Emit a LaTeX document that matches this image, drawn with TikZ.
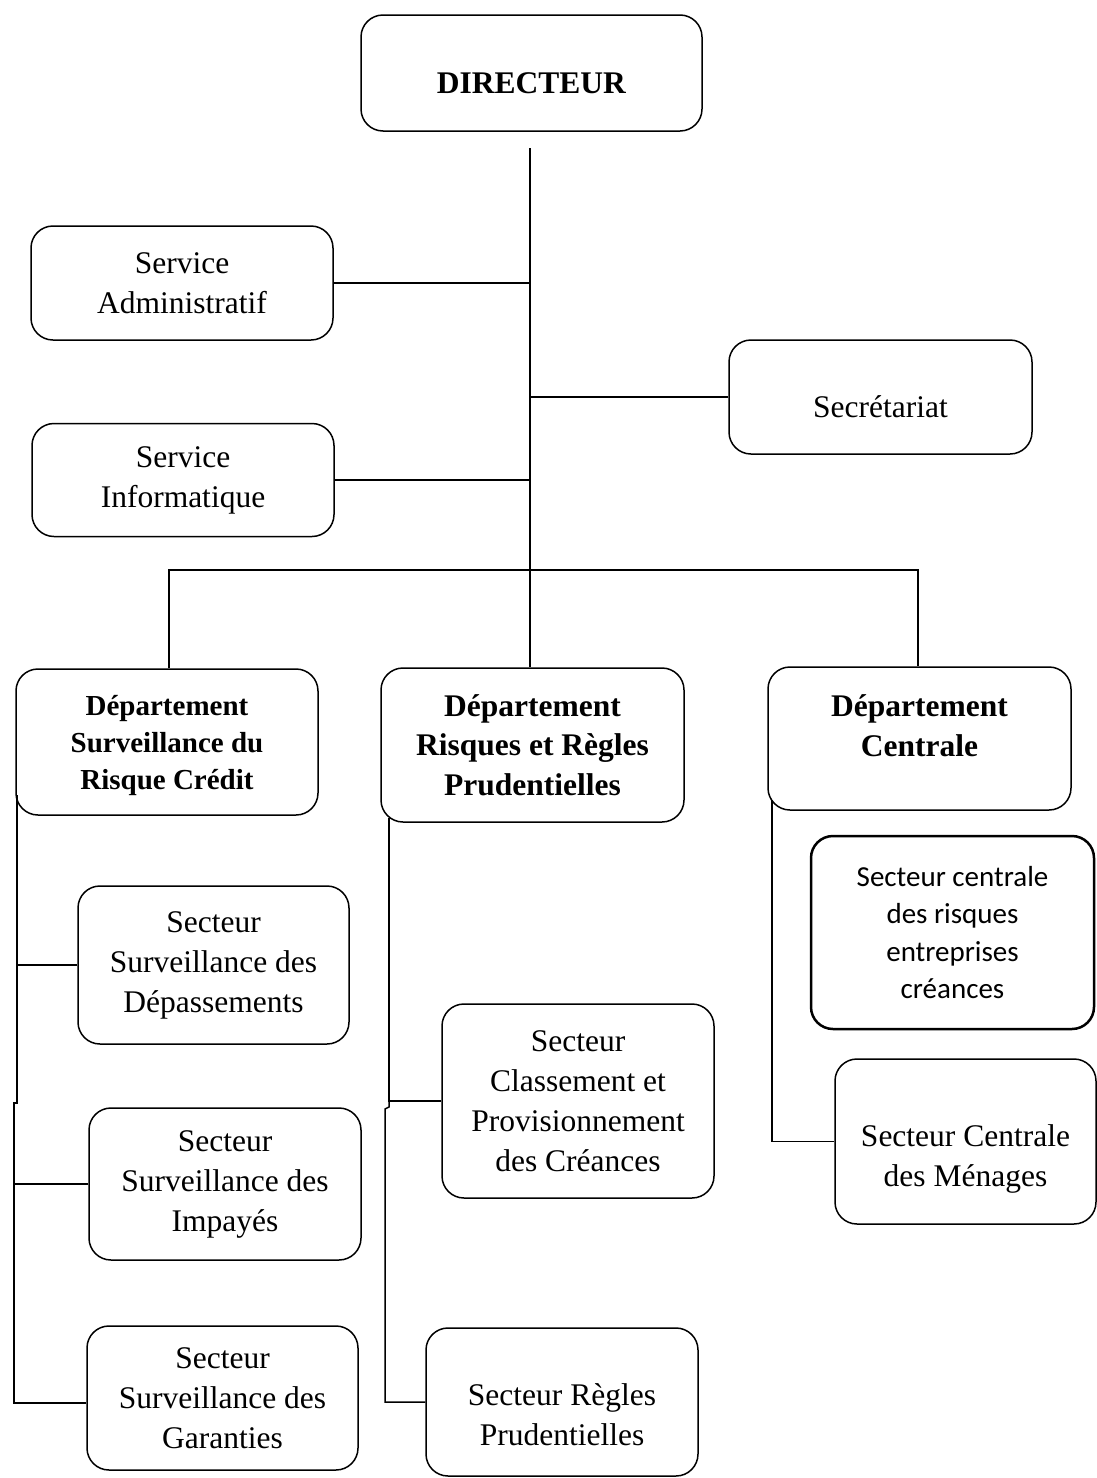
\documentclass[tikz,border=0pt]{standalone}
\usepackage{fontspec}
\setmainfont{Liberation Serif}
\newfontfamily\carlitofont{Carlito}
\begin{document}
\begin{tikzpicture}[x=1pt,y=-1pt,
  box/.style={draw,line width=1.5pt,rounded corners=22pt,align=center,inner sep=0pt,
    font=\fontsize{31.5}{40}\selectfont},
  deptbox/.style={box,font=\fontsize{31.5}{39.5}\selectfont\bfseries},
  conn/.style={line width=1.5pt}]
\useasboundingbox (0,0) rectangle (1096,1478);

% top level
\node[box,minimum width=341,minimum height=116,text height=41pt] (dir) at (531.5,73) {\textbf{DIRECTEUR}};
\node[box,minimum width=302,minimum height=114] (sadm) at (182,283) {Service\\Administratif};
\node[box,minimum width=303,minimum height=114,text height=41pt] (sec) at (880.5,397) {Secrétariat};
\node[box,minimum width=302,minimum height=113] (sinf) at (183,480) {Service\\Informatique};

% departments
\node[deptbox,font=\fontsize{29}{37}\selectfont\bfseries,minimum width=302,minimum height=146] (dep1) at (167,742) {\rule{0pt}{28pt}Département\\Surveillance du\\Risque Crédit};
\node[deptbox,minimum width=303,minimum height=154] (dep2) at (532.5,745) {Département\\Risques et Règles\\Prudentielles};
\node[deptbox,minimum width=303,minimum height=143,text depth=26pt] (dep3) at (919.5,738.5) {Département\\Centrale};

% sectors
\node[box,minimum width=271,minimum height=158] (sdep) at (213.5,965) {Secteur\\Surveillance des\\Dépassements};
\node[box,minimum width=272,minimum height=152] (simp) at (225,1184) {Secteur\\Surveillance des\\Impayés};
\node[box,minimum width=271,minimum height=144] (sgar) at (222.5,1398) {Secteur\\Surveillance des\\Garanties};
\node[box,minimum width=272,minimum height=194] (scla) at (578,1101) {Secteur\\Classement et\\Provisionnement\\des Créances};
\node[box,minimum width=272,minimum height=148] (srp) at (562,1402) {\rule{0pt}{48pt}Secteur Règles\\Prudentielles};
\node[box,line width=2.5pt,minimum width=283,minimum height=193,
  font=\fontsize{29}{37.5}\selectfont\carlitofont] (scr) at (952.5,932.5) {Secteur centrale\\des risques\\entreprises\\créances};
\node[box,minimum width=261,minimum height=165] (smen) at (965.5,1141.5) {\rule{0pt}{56pt}Secteur Centrale\\des Ménages};

% trunk
\coordinate (t0) at (530,148);
\draw[conn] (t0) -- (t0 |- dep2.north);
\draw[conn] (sadm.east) -- (sadm.east -| t0);
\draw[conn] (sec.west) -- (sec.west -| t0);
\draw[conn] (sinf.east) -- (sinf.east -| t0);

% bus
\coordinate (bl) at (169,570);
\coordinate (br) at (918,570);
\draw[conn] (bl |- dep1.north) -- (bl) -- (br) -- (br |- dep3.north);

% left spine
\coordinate (ls) at (17,795);
\coordinate (lj) at (17,1103);
\coordinate (lj2) at (14,1103);
\coordinate (lb) at (14,1403);
\draw[conn] (ls) -- (lj) -- (lj2) -- (lb) -- (lb -| sgar.west);
\draw[conn] (sdep.west) -- (sdep.west -| ls);
\draw[conn] (simp.west) -- (simp.west -| lj2);

% middle spine
\coordinate (ms) at (389,818);
\coordinate (mj) at (389,1107);
\coordinate (mj2) at (385,1109);
\coordinate (mb) at (385,1402);
\draw[conn] (ms) -- (ms |- scla.west) -- (scla.west);
\draw[conn] (ms |- scla.west) -- (mj) -- (mj2) -- (mb) -- (mb -| srp.west);

% right spine
\coordinate (rs) at (772,800);
\draw[conn] (rs) -- (rs |- smen.west) -- (smen.west);
\end{tikzpicture}
\end{document}
